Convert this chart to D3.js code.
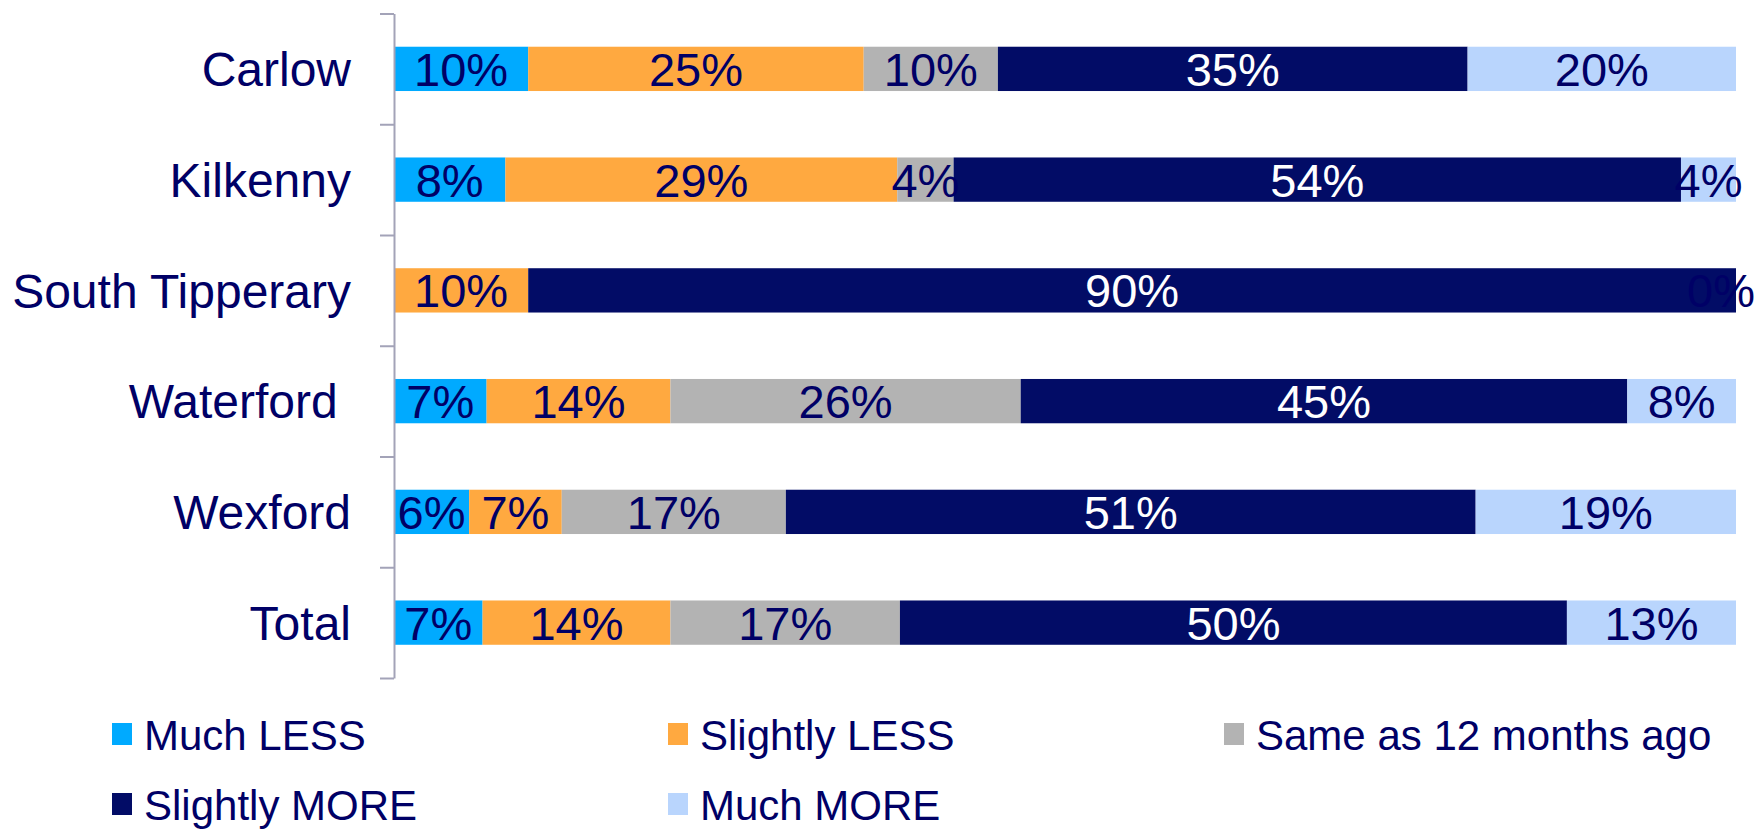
<!DOCTYPE html>
<html>
<head>
<meta charset="utf-8">
<script src="https://cdn.jsdelivr.net/npm/d3@7"></script>
<style>
  body { margin: 0; background: #fff; }
  svg { display: block; font-family: "Liberation Sans", Arial, sans-serif; }
</style>
</head>
<body>
<div id="chart"></div>
<script>
// categories, top to bottom
var categories = ["Carlow", "Kilkenny", "South Tipperary", "Waterford ", "Wexford", "Total"];
// series values (share of respondents, %); null = no value
var muchLess     = [10, 8.3, null, 6.9, 5.6, 6.6];
var slightlyLess = [25, 29.2, 10, 13.7, 6.9, 14.0];
var same12       = [10, 4.2, null, 26.1, 16.7, 17.1];
var slightlyMore = [35, 54.2, 90, 45.2, 51.4, 49.7];
var muchMore     = [20, 4.1, 0, 8.1, 19.4, 12.6];

var seriesNames = ["Much LESS", "Slightly LESS", "Same as 12 months ago", "Slightly MORE", "Much MORE"];
var seriesVals = [muchLess, slightlyLess, same12, slightlyMore, muchMore];
var colors = ["#00AAFF", "#FFA940", "#B3B3B3", "#020C66", "#B9D5FD"];
var labelColors = ["#000066", "#000066", "#000066", "#FFFFFF", "#000066"];

var W = 1764, H = 831;
var x0 = 394, x1 = 1736, yTop = 13.5, yBot = 678;

// build rows for d3.stack
var rows = categories.map(function(c, i){
  var r = {cat: c};
  seriesNames.forEach(function(s, j){ r[s] = seriesVals[j][i]; });
  return r;
});

var stack = d3.stack().keys(seriesNames).value(function(d, k){ return d[k] == null ? 0 : d[k]; });
var stacked = stack(rows);

var svg = d3.select("#chart").append("svg").attr("width", W).attr("height", H);

var xScale = d3.scaleLinear().domain([0, 100]).range([x0, x1]);
var yScale = d3.scaleBand().domain(categories).range([yTop, yBot]).paddingInner(0.6).paddingOuter(0.3);

// bars
var layer = svg.selectAll("g.layer").data(stacked).enter().append("g")
  .attr("class", "layer")
  .attr("fill", function(d, i){ return colors[i]; });

layer.selectAll("rect").data(function(d){ return d; }).enter().append("rect")
  .attr("x", function(d){ return xScale(d[0]); })
  .attr("y", function(d){ return yScale(d.data.cat); })
  .attr("width", function(d){ return xScale(d[1]) - xScale(d[0]); })
  .attr("height", yScale.bandwidth());

// data labels
stacked.forEach(function(s, i){
  svg.append("g").selectAll("text")
    .data(s.filter(function(d){ return d.data[s.key] != null; }))
    .enter().append("text")
    .attr("x", function(d){ return (xScale(d[0]) + xScale(d[1])) / 2; })
    .attr("y", function(d){ return yScale(d.data.cat) + yScale.bandwidth() / 2; })
    .attr("dy", "0.36em")
    .attr("text-anchor", "middle")
    .attr("font-size", "47px")
    .attr("fill", labelColors[i])
    .text(function(d){ return Math.round(d.data[s.key]) + "%"; })
    .each(function(){
      // keep labels inside the chart, like the original does with the 0% one
      var t = d3.select(this), half = this.getComputedTextLength() / 2;
      var cx = +t.attr("x");
      if (cx + half > W - 9) t.attr("x", W - 9 - half);
    });
});

// y axis: line with ticks between categories
var tickScale = d3.scaleLinear().domain([0, categories.length]).range([yTop, yBot]);
var yAxis = d3.axisLeft(tickScale).tickValues(d3.range(categories.length + 1))
  .tickFormat("").tickSizeInner(14).tickSizeOuter(0);
var yAxisGroup = svg.append("g").attr("transform", "translate(" + x0 + ",0)").call(yAxis);
yAxisGroup.selectAll("path, line").attr("stroke", "#A3A3B8").attr("stroke-width", 2);

// category labels
svg.append("g").selectAll("text").data(categories).enter().append("text")
  .attr("x", 351)
  .attr("y", function(d){ return yScale(d) + yScale.bandwidth() / 2; })
  .attr("dy", "0.36em")
  .attr("text-anchor", "end")
  .attr("font-size", "48px")
  .attr("fill", "#000066")
  .style("white-space", "pre")
  .text(function(d){ return d; });

// legend
var legendPos = [[112, 735], [668, 735], [1224, 735], [112, 805], [668, 805]];
var legend = svg.append("g").selectAll("g").data(seriesNames).enter().append("g")
  .attr("transform", function(d, i){ return "translate(" + legendPos[i][0] + "," + legendPos[i][1] + ")"; });
legend.append("rect").attr("x", 0).attr("y", -12).attr("width", 20).attr("height", 22)
  .attr("fill", function(d, i){ return colors[i]; });
legend.append("text").attr("x", 32).attr("y", 0).attr("dy", "0.36em")
  .attr("font-size", "42px").attr("fill", "#000066")
  .text(function(d){ return d; });
</script>
</body>
</html>
